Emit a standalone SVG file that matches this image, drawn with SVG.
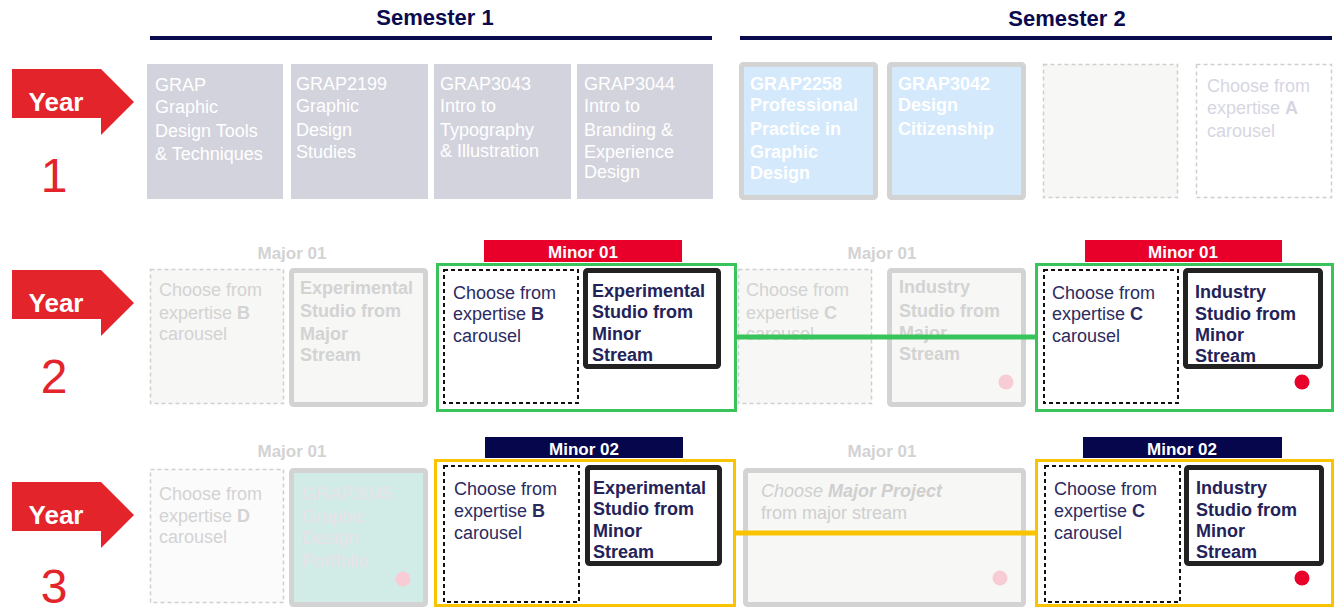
<svg xmlns="http://www.w3.org/2000/svg" width="1334" height="607" viewBox="0 0 1334 607">
<style>
text{font-family:"Liberation Sans",Arial,sans-serif}
.sem{font-size:22px;font-weight:bold;fill:#0a0a4f;text-anchor:middle}
.semline{stroke:#0a0a4f;stroke-width:4}
.arrow{fill:#e3242b}
.year{font-size:26px;font-weight:bold;fill:#fff;text-anchor:middle}
.num{font-size:48px;fill:#e3242b;text-anchor:middle}
.y1{fill:#d3d3dd}
.y1t{font-size:18px;fill:#fff}
.blue{fill:#d4e9fb;stroke:#d3d3d3;stroke-width:5}
.bt{font-size:18px;font-weight:bold;fill:#fff}
.dg{fill:#f7f7f5;stroke:#cfcfcf;stroke-width:1.5;stroke-dasharray:4 3}
.dw{fill:#fff;stroke:#cfcfcf;stroke-width:1.5;stroke-dasharray:4 3}
.gt{font-size:18px;fill:#d6d6e2}
.gray{fill:#f7f7f5;stroke:#d3d3d3;stroke-width:5}
.gbt{font-size:18px;font-weight:bold;fill:#d3d3d3}
.maj{font-size:17px;font-weight:bold;fill:#d3d3d3;text-anchor:middle}
.lab{font-size:17px;font-weight:bold;fill:#fff;text-anchor:middle}
.green{fill:none;stroke:#38c45a;stroke-width:3}
.yel{fill:none;stroke:#f9c300;stroke-width:3}
.dk{fill:#fff;stroke:#111;stroke-width:2;stroke-dasharray:4 3}
.blk{fill:#fff;stroke:#222;stroke-width:5}
.nt{font-size:18px;fill:#2b2b61}
.nbt{font-size:18px;font-weight:bold;fill:#23235a}
.pink{fill:#f8ccd5}
.red{fill:#e8002a}
</style>

<g id="header">
  <text class="sem" x="435" y="25">Semester 1</text>
  <line class="semline" x1="150" y1="38" x2="712" y2="38"/>
  <text class="sem" x="1067" y="26">Semester 2</text>
  <line class="semline" x1="740" y1="38" x2="1332" y2="38"/>
</g>

<g id="year1-label">
  <polygon class="arrow" points="12,69 101,69 134,102 101,135 101,118 12,118"/>
  <text class="year" x="56" y="111">Year</text>
  <text class="num" x="54" y="192">1</text>
</g>
<g id="year2-label">
  <polygon class="arrow" points="12,270 101,270 134,303 101,336 101,319 12,319"/>
  <text class="year" x="56" y="312">Year</text>
  <text class="num" x="54" y="393">2</text>
</g>
<g id="year3-label">
  <polygon class="arrow" points="12,482 101,482 134,515 101,548 101,531 12,531"/>
  <text class="year" x="56" y="524">Year</text>
  <text class="num" x="54" y="603">3</text>
</g>

<!-- Year 1 -->
<g id="y1-grap">
  <rect class="y1" x="147" y="64" width="136" height="135"/>
  <text class="y1t" x="155" y="91">GRAP</text>
  <text class="y1t" x="155" y="113">Graphic</text>
  <text class="y1t" x="155" y="137">Design Tools</text>
  <text class="y1t" x="155" y="160">&amp; Techniques</text>
</g>
<g id="y1-grap2199">
  <rect class="y1" x="291" y="64" width="137" height="135"/>
  <text class="y1t" x="296" y="90">GRAP2199</text>
  <text class="y1t" x="296" y="112">Graphic</text>
  <text class="y1t" x="296" y="136">Design</text>
  <text class="y1t" x="296" y="158">Studies</text>
</g>
<g id="y1-grap3043">
  <rect class="y1" x="434" y="64" width="137" height="135"/>
  <text class="y1t" x="440" y="90">GRAP3043</text>
  <text class="y1t" x="440" y="112">Intro to</text>
  <text class="y1t" x="440" y="136">Typography</text>
  <text class="y1t" x="440" y="157">&amp; Illustration</text>
</g>
<g id="y1-grap3044">
  <rect class="y1" x="577" y="64" width="136" height="135"/>
  <text class="y1t" x="584" y="90">GRAP3044</text>
  <text class="y1t" x="584" y="112">Intro to</text>
  <text class="y1t" x="584" y="136">Branding &amp;</text>
  <text class="y1t" x="584" y="158">Experience</text>
  <text class="y1t" x="584" y="178">Design</text>
</g>
<g id="y1-grap2258">
  <rect class="blue" x="741.5" y="64.5" width="134" height="133" rx="2"/>
  <text class="bt" x="750" y="90">GRAP2258</text>
  <text class="bt" x="750" y="111">Professional</text>
  <text class="bt" x="750" y="135">Practice in</text>
  <text class="bt" x="750" y="158">Graphic</text>
  <text class="bt" x="750" y="179">Design</text>
</g>
<g id="y1-grap3042">
  <rect class="blue" x="889.5" y="64.5" width="134" height="133" rx="2"/>
  <text class="bt" x="898" y="90">GRAP3042</text>
  <text class="bt" x="898" y="111">Design</text>
  <text class="bt" x="898" y="135">Citizenship</text>
</g>
<g id="y1-empty">
  <rect class="dg" x="1043.5" y="64.5" width="134" height="133"/>
</g>
<g id="y1-expertiseA">
  <rect class="dw" x="1196.5" y="64.5" width="135" height="133"/>
  <text class="gt" x="1207" y="92">Choose from</text>
  <text class="gt" x="1207" y="114">expertise <tspan font-weight="bold">A</tspan></text>
  <text class="gt" x="1207" y="137">carousel</text>
</g>

<!-- Year 2 -->
<g id="y2-s1-major">
  <text class="maj" x="292" y="259">Major 01</text>
  <rect class="dg" x="150.5" y="269.5" width="133" height="134"/>
  <text class="gt" x="159" y="296" style="fill:#d3d3d3">Choose from</text>
  <text class="gt" x="159" y="319" style="fill:#d3d3d3">expertise <tspan font-weight="bold">B</tspan></text>
  <text class="gt" x="159" y="340" style="fill:#d3d3d3">carousel</text>
  <rect class="gray" x="291.5" y="270.5" width="134" height="134" rx="2"/>
  <text class="gbt" x="300" y="294">Experimental</text>
  <text class="gbt" x="300" y="317">Studio from</text>
  <text class="gbt" x="300" y="340">Major</text>
  <text class="gbt" x="300" y="361">Stream</text>
</g>
<g id="y2-s1-minor">
  <rect class="red" x="484" y="240" width="198" height="22"/>
  <text class="lab" x="583" y="258">Minor 01</text>
  <rect class="green" x="437.5" y="264.5" width="298" height="146"/>
  <rect class="dk" x="444" y="270" width="134" height="133"/>
  <text class="nt" x="453" y="299">Choose from</text>
  <text class="nt" x="453" y="320">expertise <tspan font-weight="bold">B</tspan></text>
  <text class="nt" x="453" y="342">carousel</text>
  <rect class="blk" x="585.5" y="270.5" width="133" height="96" rx="2"/>
  <text class="nbt" x="592" y="297">Experimental</text>
  <text class="nbt" x="592" y="318">Studio from</text>
  <text class="nbt" x="592" y="340">Minor</text>
  <text class="nbt" x="592" y="361">Stream</text>
</g>
<g id="y2-s2-major">
  <text class="maj" x="882" y="259">Major 01</text>
  <rect class="dg" x="738.5" y="269.5" width="133" height="134"/>
  <text class="gt" x="746" y="296" style="fill:#d3d3d3">Choose from</text>
  <text class="gt" x="746" y="319" style="fill:#d3d3d3">expertise <tspan font-weight="bold">C</tspan></text>
  <text class="gt" x="746" y="340" style="fill:#d3d3d3">carousel</text>
  <rect class="gray" x="889.5" y="270.5" width="134" height="134" rx="2"/>
  <text class="gbt" x="899" y="293">Industry</text>
  <text class="gbt" x="899" y="317">Studio from</text>
  <text class="gbt" x="899" y="339">Major</text>
  <text class="gbt" x="899" y="360">Stream</text>
  <circle class="pink" cx="1006" cy="382" r="7.5"/>
</g>
<g id="y2-s2-minor">
  <rect class="red" x="1085" y="240" width="197" height="22"/>
  <text class="lab" x="1183" y="258">Minor 01</text>
  <rect class="green" x="1036.5" y="264.5" width="296" height="146"/>
  <rect class="dk" x="1044" y="270" width="134" height="133"/>
  <text class="nt" x="1052" y="299">Choose from</text>
  <text class="nt" x="1052" y="320">expertise <tspan font-weight="bold">C</tspan></text>
  <text class="nt" x="1052" y="342">carousel</text>
  <rect class="blk" x="1185.5" y="270.5" width="135" height="96" rx="2"/>
  <text class="nbt" x="1195" y="298">Industry</text>
  <text class="nbt" x="1195" y="320">Studio from</text>
  <text class="nbt" x="1195" y="341">Minor</text>
  <text class="nbt" x="1195" y="362">Stream</text>
  <circle class="red" cx="1302" cy="382" r="7.5"/>
</g>

<!-- Year 3 -->
<g id="y3-s1-major">
  <text class="maj" x="292" y="457">Major 01</text>
  <rect class="dw" x="150.5" y="469.5" width="133" height="133" style="fill:#fbfbfb"/>
  <text class="gt" x="159" y="500" style="fill:#d3d3d3">Choose from</text>
  <text class="gt" x="159" y="522" style="fill:#d3d3d3">expertise <tspan font-weight="bold">D</tspan></text>
  <text class="gt" x="159" y="543" style="fill:#d3d3d3">carousel</text>
  <rect x="291.5" y="470.5" width="134" height="134" rx="2" fill="#d1ece6" stroke="#d3d3d3" stroke-width="5"/>
  <text class="y1t" x="302" y="500" style="fill:#e8e2e8">GRAP3045</text>
  <text class="y1t" x="302" y="523" style="fill:#e8e2e8">Graphic</text>
  <text class="y1t" x="302" y="544" style="fill:#e8e2e8">Design</text>
  <text class="y1t" x="302" y="567" style="fill:#e8e2e8">Portfolio</text>
  <circle class="pink" cx="403" cy="579" r="7.5"/>
</g>
<g id="y3-s1-minor">
  <rect x="485" y="437" width="198" height="21" fill="#06064c"/>
  <text class="lab" x="584" y="455">Minor 02</text>
  <rect class="yel" x="435.5" y="460.5" width="299" height="145"/>
  <rect class="dk" x="444" y="466" width="135" height="136"/>
  <text class="nt" x="454" y="495">Choose from</text>
  <text class="nt" x="454" y="517">expertise <tspan font-weight="bold">B</tspan></text>
  <text class="nt" x="454" y="539">carousel</text>
  <rect class="blk" x="587.5" y="467.5" width="132" height="96" rx="2"/>
  <text class="nbt" x="593" y="494">Experimental</text>
  <text class="nbt" x="593" y="515">Studio from</text>
  <text class="nbt" x="593" y="537">Minor</text>
  <text class="nbt" x="593" y="558">Stream</text>
</g>
<g id="y3-s2-major">
  <text class="maj" x="882" y="457">Major 01</text>
  <rect class="gray" x="745.5" y="470.5" width="278" height="134" rx="2"/>
  <text class="gt" x="761" y="497" style="fill:#cfcfcf;font-style:italic">Choose <tspan font-weight="bold">Major Project</tspan></text>
  <text class="gt" x="761" y="519" style="fill:#cfcfcf">from major stream</text>
  <circle class="pink" cx="1000" cy="578" r="7.5"/>
</g>
<g id="y3-s2-minor">
  <rect x="1083" y="437" width="199" height="21" fill="#06064c"/>
  <text class="lab" x="1182" y="455">Minor 02</text>
  <rect class="yel" x="1036.5" y="460.5" width="296" height="145"/>
  <rect class="dk" x="1045" y="466" width="135" height="136"/>
  <text class="nt" x="1054" y="495">Choose from</text>
  <text class="nt" x="1054" y="517">expertise <tspan font-weight="bold">C</tspan></text>
  <text class="nt" x="1054" y="539">carousel</text>
  <rect class="blk" x="1186.5" y="467.5" width="135" height="96" rx="2"/>
  <text class="nbt" x="1196" y="494">Industry</text>
  <text class="nbt" x="1196" y="516">Studio from</text>
  <text class="nbt" x="1196" y="537">Minor</text>
  <text class="nbt" x="1196" y="558">Stream</text>
  <circle class="red" cx="1302" cy="578" r="7.5"/>
</g>

<g id="connectors">
  <line x1="736" y1="337" x2="1036" y2="337" stroke="#38c45a" stroke-width="5"/>
  <line x1="735" y1="533" x2="1036" y2="533" stroke="#f9c300" stroke-width="5"/>
</g>
</svg>
